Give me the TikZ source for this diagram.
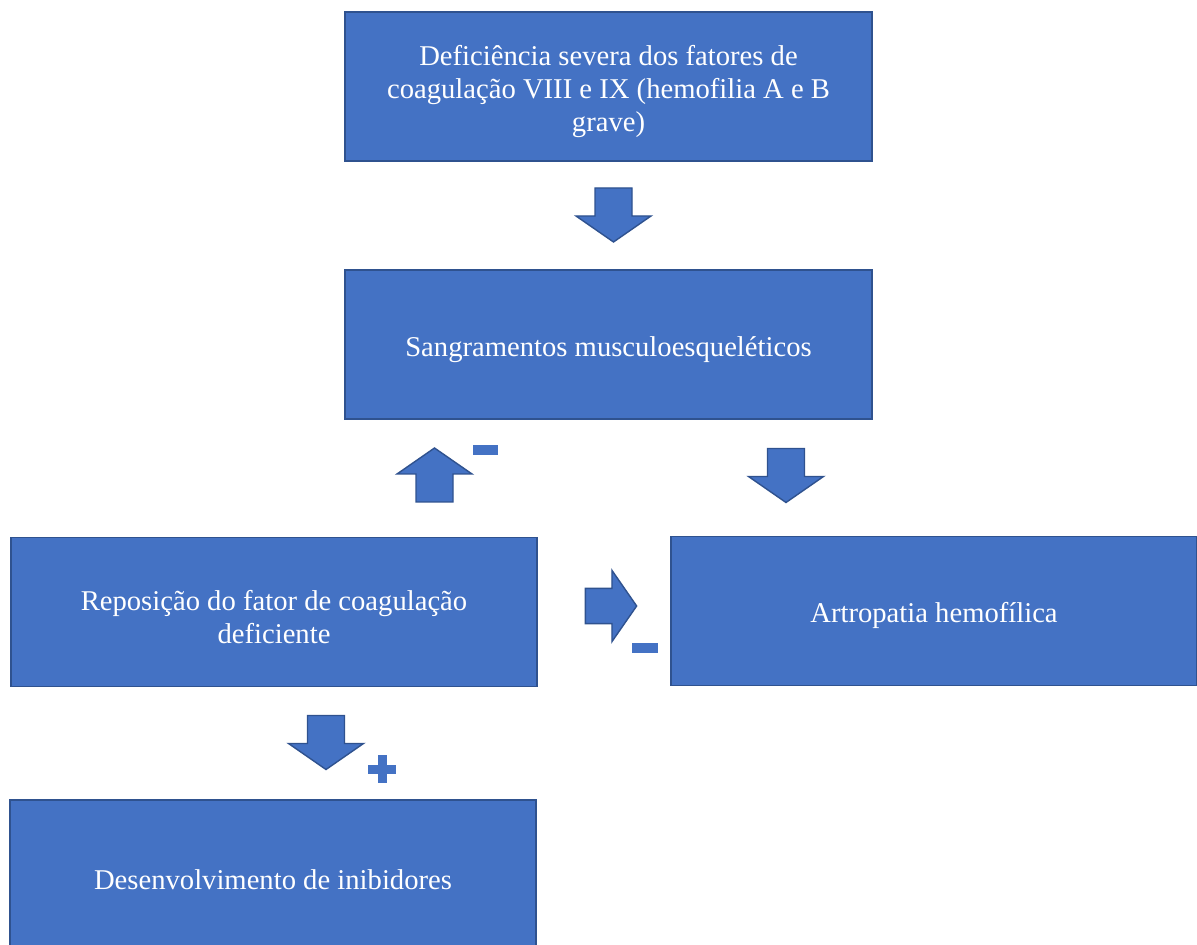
\documentclass[tikz,border=0pt]{standalone}
\usepackage{fontspec}
\setmainfont{Liberation Serif}
\definecolor{boxblue}{HTML}{4472C4}
\definecolor{edgeblue}{HTML}{2F528F}
\newcommand{\sobe}{\rule{0pt}{17pt}}
\tikzset{
  caixa/.style={draw=edgeblue,line width=1.1pt,fill=boxblue,text=white,minimum width=10.54cm,minimum height=2.98cm,align=center,font=\fontsize{16.3}{18.7}\selectfont},
  seta/.pic={\filldraw[draw=edgeblue,fill=boxblue,line width=0.8pt] (-18.5,-27)--(18.5,-27)--(18.5,1)--(37.5,1)--(0,27)--(-37.5,1)--(-18.5,1)--cycle;}
}
\begin{document}
\begin{tikzpicture}[x=0.02cm,y=-0.02cm]
    \useasboundingbox (0,0) rectangle (1197,945);
    \node[caixa] (deficiencia) at (608.5,86.5) {\sobe Deficiência severa dos fatores de\\coagulação VIII e IX (hemofilia A e B\\grave)};
    \node[caixa] (sangramentos) at (608.5,344.5) {\sobe Sangramentos musculoesqueléticos};
    \node[caixa] (reposicao) at (274,612) {\sobe Reposição do fator de coagulação\\deficiente};
    \node[caixa] (artropatia) at (934,611) {\sobe Artropatia hemofílica};
    \node[caixa] (inibidores) at (273,874.5) {\sobe Desenvolvimento de inibidores};
    % setas
    \pic at (613.5,215) {seta};
    \pic[rotate=180] at (434.5,475) {seta};
    \pic at (786,475.5) {seta};
    \pic[rotate=90,scale=0.95] at (611,606) {seta};
    \pic at (326,742.5) {seta};
    % sinais
    \fill[boxblue] (473,445) rectangle (498,455);
    \fill[boxblue] (632,643) rectangle (658,653);
    \fill[boxblue] (368,764.5) rectangle (396,773.5);
    \fill[boxblue] (377.5,755) rectangle (386.5,783);
\end{tikzpicture}
\end{document}
